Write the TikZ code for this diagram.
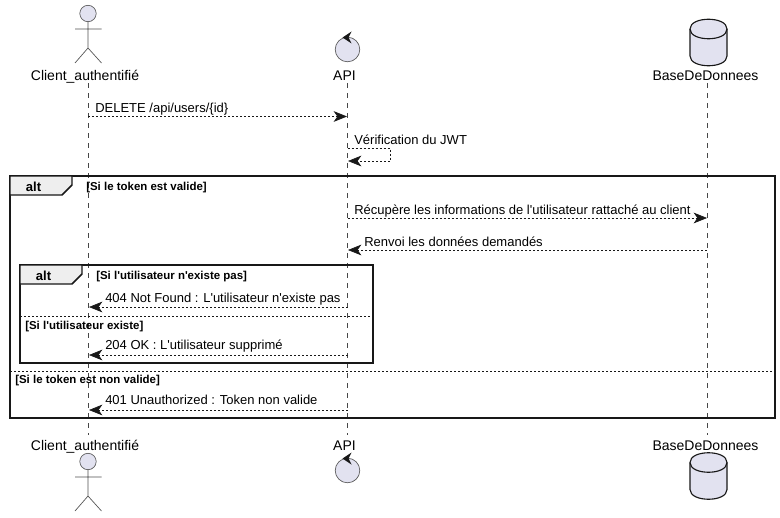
\documentclass[tikz,border=0pt]{standalone}
\usepackage{fontspec}
\newfontfamily\lsans{Liberation Sans}
\usetikzlibrary{arrows.meta}
\definecolor{partfill}{HTML}{E2E2F0}
\definecolor{inkc}{HTML}{181818}
\definecolor{tabfill}{HTML}{EEEEEE}
\tikzset{
  x=0.75pt,y=-0.75pt,
  lifeline/.style={draw=inkc!80,line width=0.5pt,dash pattern=on 3.75pt off 3.75pt},
  partlabel/.style={font=\lsans\fontsize{10.5pt}{12pt}\selectfont,text=black,inner sep=0pt,anchor=base},
  msglabel/.style={font=\lsans\fontsize{9.75pt}{11pt}\selectfont,text=black,inner sep=0pt,anchor=base west},
  guardlabel/.style={font=\lsans\fontsize{8.6pt}{10pt}\selectfont\bfseries,text=black,inner sep=0pt,anchor=base west},
  altlabel/.style={font=\lsans\fontsize{9.8pt}{11pt}\selectfont\bfseries,text=black,inner sep=0pt,anchor=base},
  msgline/.style={draw=inkc,line width=0.5pt,dash pattern=on 1.5pt off 1.5pt,-{Stealth[length=10pt,width=8pt,inset=2.8pt,fill=inkc]}},
  framebox/.style={draw=inkc,line width=1.4pt},
  alttab/.style={draw=inkc,line width=1.1pt,fill=tabfill},
  sepline/.style={draw=inkc,line width=0.6pt,dash pattern=on 1.5pt off 1.5pt},
  limb/.style={draw=inkc!75,line width=0.5pt},
  ballfill/.style={draw=inkc!75,line width=0.5pt,fill=partfill},
  dbshape/.style={draw=inkc,line width=0.85pt,fill=partfill},
}
\newcommand{\actorfig}[1]{%
  \begin{scope}[yshift=#1*-0.75pt]
    \draw[ballfill] (88,13.5) circle[radius=8.2];
    \draw[limb] (88,21.7) -- (88,48) (75,29) -- (101.5,29) (75,63) -- (88,48) -- (101.5,63);
  \end{scope}}
\newcommand{\ctrlfig}[1]{%
  \begin{scope}[yshift=#1*-0.75pt]
    \draw[ballfill] (347.5,49.5) circle[radius=12.3];
    \fill[inkc] (342.5,37.5) -- (351.5,31.5) -- (348.5,37.5) -- (351.5,43.5) -- cycle;
  \end{scope}}
\newcommand{\dbfig}[1]{%
  \begin{scope}[yshift=#1*-0.75pt]
    \draw[dbshape] (690,29) .. controls (690,16) and (727,16) .. (727,29)
      -- (727,56) .. controls (727,69) and (690,69) .. (690,56) -- cycle;
    \draw[dbshape,fill=none] (690,29) .. controls (690,42) and (727,42) .. (727,29);
  \end{scope}}
\begin{document}
\begin{tikzpicture}
\useasboundingbox (0,0) rectangle (780,517);
\fill[white] (0,0) rectangle (780,517);

% participant labels
\node[partlabel] (ct) at (85,80) {Client\_authentifié};
\node[partlabel] (at) at (344.5,80) {API};
\node[partlabel] (bt) at (705.5,80) {BaseDeDonnees};
\node[partlabel] (cb) at (85,450) {Client\_authentifié};
\node[partlabel] (ab) at (344.5,450) {API};
\node[partlabel] (bb) at (705.5,450) {BaseDeDonnees};

% lifelines
\coordinate (c0) at (88,83); \coordinate (c9) at (88,435);
\coordinate (a0) at (347.5,83); \coordinate (a9) at (347.5,435);
\coordinate (b0) at (707,83); \coordinate (b9) at (707,435);
\draw[lifeline] (c0) -- (c9);
\draw[lifeline] (a0) -- (a9);
\draw[lifeline] (b0) -- (b9);

% frames
\draw[framebox] (10,176) rectangle (775,418);
\draw[alttab] (10,176) -- (72,176) -- (72,185) -- (62,195) -- (10,195) -- cycle;
\node[altlabel] (alt1) at (33.5,191) {alt};
\node[guardlabel] (g1) at (86,190) {[Si le token est valide]};
\draw[sepline] (10,371) -- (775,371);
\node[guardlabel] (g4) at (15,383.5) {[Si le token est non valide]};

\draw[framebox] (20,265) rectangle (373,363);
\draw[alttab] (20,265) -- (82,265) -- (82,274) -- (72,284) -- (20,284) -- cycle;
\node[altlabel] (alt2) at (43.5,280) {alt};
\node[guardlabel] (g2) at (96,279.5) {[Si l'utilisateur n'existe pas]};
\draw[sepline] (20,316) -- (373,316);
\node[guardlabel] (g3) at (25,329.5) {[Si l'utilisateur existe]};

% messages
\coordinate (m1c) at (88,116.5); \coordinate (m1a) at (347,116.5);
\draw[msgline] (m1c) -- (m1a);
\node[msglabel] (t1) at (95,112.2) {DELETE /api/users/\{id\}};

\coordinate (m2a) at (347.5,148); \coordinate (m2r) at (390,148);
\coordinate (m2s) at (390,161); \coordinate (m2e) at (348,161);
\draw[msgline] (m2a) -- (m2r) -- (m2s) -- (m2e);
\node[msglabel] (t2) at (354,144) {Vérification du JWT};

\coordinate (m3a) at (347.5,218); \coordinate (m3b) at (707,218);
\draw[msgline] (m3a) -- (m3b);
\node[msglabel] (t3) at (354,214) {Récupère les informations de l'utilisateur rattaché au client};

\coordinate (m4b) at (707,250); \coordinate (m4a) at (348,250);
\draw[msgline] (m4b) -- (m4a);
\node[msglabel] (t4) at (364,246) {Renvoi les données demandés};

\coordinate (m5a) at (347.5,307); \coordinate (m5c) at (89,307);
\draw[msgline] (m5a) -- (m5c);
\node[msglabel] (t5) at (105,302.2) {404 Not Found : L'utilisateur n'existe pas};

\coordinate (m6a) at (347.5,355); \coordinate (m6c) at (89,355);
\draw[msgline] (m6a) -- (m6c);
\node[msglabel] (t6) at (105,349.8) {204 OK : L'utilisateur supprimé};

\coordinate (m7a) at (347.5,410); \coordinate (m7c) at (89,410);
\draw[msgline] (m7a) -- (m7c);
\node[msglabel] (t7) at (105,404.8) {401 Unauthorized : Token non valide};

% participant figures
\actorfig{0}
\ctrlfig{0}
\dbfig{0}
\actorfig{448}
\ctrlfig{421}
\dbfig{433.5}
\end{tikzpicture}
\end{document}
